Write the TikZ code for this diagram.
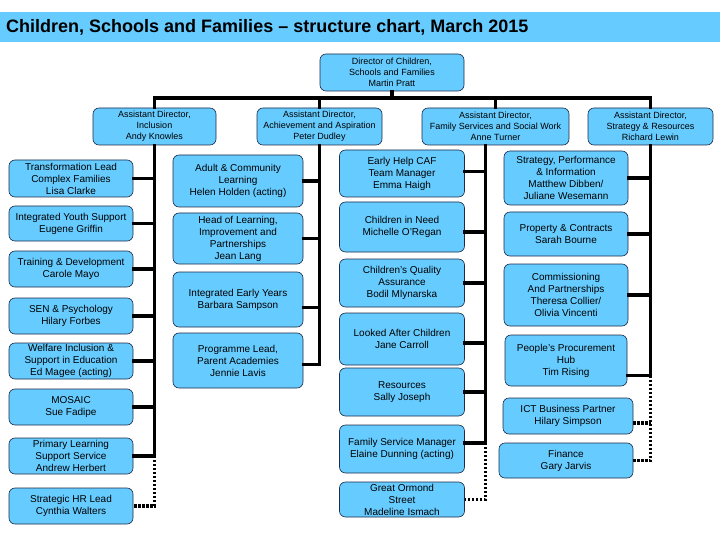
\documentclass[tikz,border=0pt]{standalone}
\usepackage{fontspec}
\setmainfont{Liberation Sans}
\usepackage{xcolor}
\definecolor{chart-blue}{HTML}{66CCFF}
\definecolor{box-line}{HTML}{1B2A47}

\begin{document}
\begin{tikzpicture}[x=1pt, y=-1pt,
    box/.style={draw=box-line, line width=0.6pt, fill=chart-blue,
      rounded corners=6pt, align=center, inner sep=1pt,
      font=\fontsize{10}{12}\selectfont},
    headbox/.style={box, font=\fontsize{9}{11}\selectfont},
    boxsize/.style 2 args={minimum width=#1pt, minimum height=#2pt},
    link/.style={line width=3.2pt, line cap=rect},
    dotlink/.style={line width=3.2pt, dash pattern=on 2.4pt off 1.6pt}]
    \useasboundingbox (0,0) rectangle (720,540);
    % title bar
    \fill[chart-blue] (0,12) rectangle (720,42);
    \node[anchor=west, inner sep=0, font=\fontsize{18}{20}\selectfont\bfseries]
      (title) at (6,27) {Children, Schools and Families -- structure chart, March 2015};

    % director and assistant directors
    \node[headbox, boxsize={144}{37}] (dir) at (392,72.5)
      {Director of Children,\\ Schools and Families\\ Martin Pratt};
    \node[headbox, boxsize={123}{37}] (adInc) at (154.5,126.5)
      {Assistant Director,\\ Inclusion\\ Andy Knowles};
    \node[headbox, boxsize={125}{37}] (adAch) at (319.5,126.5)
      {Assistant Director,\\ Achievement and Aspiration\\ Peter Dudley};
    \node[headbox, boxsize={147}{37}] (adFam) at (495.5,126.5)
      {Assistant Director,\\ Family Services and Social Work\\ Anne Turner};
    \node[headbox, boxsize={125}{37}] (adStr) at (650.5,126.5)
      {Assistant Director,\\ Strategy \& Resources\\ Richard Lewin};
    \coordinate (bar) at (0,98);
    \draw[link] (adInc.north) -- (adInc.north |- bar) -- (adStr.north |- bar)
      -- (adStr.north);
    \draw[link] (dir.south) -- (dir.south |- bar);
    \draw[link] (adAch.north) -- (adAch.north |- bar);
    \draw[link] (adFam.north) -- (adFam.north |- bar);

    % inclusion
    \node[box, boxsize={124}{37}] (inc1) at (71,178.5)
      {Transformation Lead\\ Complex Families\\ Lisa Clarke};
    \node[box, boxsize={124}{35}] (inc2) at (71,223.5)
      {Integrated Youth Support\\ Eugene Griffin};
    \node[box, boxsize={124}{36}] (inc3) at (71,269)
      {Training \& Development\\ Carole Mayo};
    \node[box, boxsize={124}{36}] (inc4) at (71,316)
      {SEN \& Psychology\\ Hilary Forbes};
    \node[box, boxsize={124}{36}] (inc5) at (71,361)
      {Welfare Inclusion \&\\ Support in Education\\ Ed Magee (acting)};
    \node[box, boxsize={124}{36}] (inc6) at (71,407)
      {MOSAIC\\ Sue Fadipe};
    \node[box, boxsize={124}{36}] (inc7) at (71,456)
      {Primary Learning\\ Support Service\\ Andrew Herbert};
    \node[box, boxsize={124}{36}] (inc8) at (71,506)
      {Strategic HR Lead\\ Cynthia Walters};
    \draw[link] (adInc.south) -- (adInc.south |- inc7.east) -- (inc7.east);
    \foreach \n in {1,...,6}
      \draw[link] (inc\n.east) -- (inc\n.east -| adInc.south);
    \draw[dotlink] (adInc.south |- inc7.east) -- (adInc.south |- inc8.east)
      -- (inc8.east);

    % achievement and aspiration
    \node[box, boxsize={130}{52}] (ach1) at (238,181)
      {Adult \& Community\\ Learning\\ Helen Holden (acting)};
    \node[box, boxsize={130}{51}] (ach2) at (238,238.5)
      {Head of Learning,\\ Improvement and\\ Partnerships\\ Jean Lang};
    \node[box, boxsize={130}{55}] (ach3) at (238,299.5)
      {Integrated Early Years\\ Barbara Sampson};
    \node[box, boxsize={130}{55}] (ach4) at (238,360.5)
      {Programme Lead,\\ Parent Academies\\ Jennie Lavis};
    \coordinate (ach3Link) at ([yshift=-8pt]ach3.east);
    \coordinate (ach4Link) at ([yshift=-4pt]ach4.east);
    \draw[link] (adAch.south) -- (adAch.south |- ach4Link) -- (ach4Link);
    \draw[link] (ach1.east) -- (ach1.east -| adAch.south);
    \draw[link] (ach2.east) -- (ach2.east -| adAch.south);
    \draw[link] (ach3Link) -- (ach3Link -| adAch.south);

    % family services and social work
    \node[box, boxsize={125}{47}] (fam1) at (402,173.5)
      {Early Help CAF\\ Team Manager\\ Emma Haigh};
    \node[box, boxsize={125}{50}] (fam2) at (402,227)
      {Children in Need\\ Michelle O'Regan};
    \node[box, boxsize={125}{48}] (fam3) at (402,283)
      {Children's Quality\\ Assurance\\ Bodil Mlynarska};
    \node[box, boxsize={125}{52}] (fam4) at (402,339)
      {Looked After Children\\ Jane Carroll};
    \node[box, boxsize={125}{48}] (fam5) at (402,392)
      {Resources\\ Sally Joseph};
    \node[box, boxsize={125}{48}] (fam6) at (402,449)
      {Family Service Manager\\ Elaine Dunning (acting)};
    \node[box, boxsize={125}{35}] (fam7) at (402,499.5)
      {Great Ormond\\ Street\\ Madeline Ismach};
    \coordinate (famTrunk) at ([xshift=-10pt]adFam.south);
    \coordinate (fam1Link) at ([yshift=2pt]fam1.east);
    \coordinate (fam2Link) at ([yshift=-5pt]fam2.east);
    \coordinate (fam4Link) at ([yshift=-4pt]fam4.east);
    \coordinate (fam6Link) at ([yshift=6pt]fam6.east);
    \draw[link] (famTrunk) -- (famTrunk |- fam6Link) -- (fam6Link);
    \draw[link] (fam1Link) -- (fam1Link -| famTrunk);
    \draw[link] (fam2Link) -- (fam2Link -| famTrunk);
    \draw[link] (fam3.east) -- (fam3.east -| famTrunk);
    \draw[link] (fam4Link) -- (fam4Link -| famTrunk);
    \draw[link] (fam5.east) -- (fam5.east -| famTrunk);
    \draw[dotlink] (famTrunk |- fam6Link) -- (famTrunk |- fam7.east) -- (fam7.east);

    % strategy and resources
    \node[box, boxsize={124}{54}] (str1) at (566,178)
      {Strategy, Performance\\ \& Information\\ Matthew Dibben/\\ Juliane Wesemann};
    \node[box, boxsize={124}{44}] (str2) at (566,234)
      {Property \& Contracts\\ Sarah Bourne};
    \node[box, boxsize={124}{62}] (str3) at (566,295)
      {Commissioning\\ And Partnerships\\ Theresa Collier/\\ Olivia Vincenti};
    \node[box, boxsize={122}{51}] (str4) at (566,360.5)
      {People's Procurement\\ Hub\\ Tim Rising};
    \node[box, boxsize={130}{36}] (str5) at (568,416)
      {ICT Business Partner\\ Hilary Simpson};
    \node[box, boxsize={134}{35}] (str6) at (566,460.5)
      {Finance\\ Gary Jarvis};
    \coordinate (str4Link) at ([yshift=-15pt]str4.east);
    \coordinate (str5Link) at ([yshift=-7pt]str5.east);
    \draw[link] (adStr.south) -- (adStr.south |- str4Link) -- (str4Link);
    \foreach \n in {1,2,3}
      \draw[link] (str\n.east) -- (str\n.east -| adStr.south);
    \draw[dotlink] (adStr.south |- str4Link) -- (adStr.south |- str6.east)
      -- (str6.east);
    \draw[dotlink] (str5Link) -- (str5Link -| adStr.south);
  \end{tikzpicture}
\end{document}
